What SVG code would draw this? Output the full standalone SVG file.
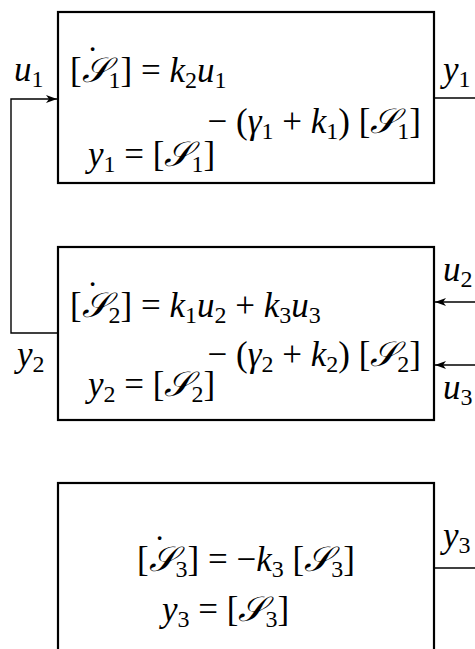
<svg xmlns="http://www.w3.org/2000/svg" width="475" height="649" viewBox="0 0 475 649">
<defs>
<style>
.t{font-family:"Liberation Serif","DejaVu Serif",serif;font-size:35px;fill:#000}
.i{font-style:italic}
.s{font-size:24px}
.box{fill:#fff;stroke:#000;stroke-width:2.2}
.ln{fill:none;stroke:#000;stroke-width:1.4}
</style>
<marker id="ah" viewBox="0 0 11 8" refX="11" refY="4" markerWidth="11" markerHeight="8" markerUnits="userSpaceOnUse" orient="auto">
<path d="M0,0 L11,4 L0,8 L3,4 Z" fill="#000"/>
</marker>
</defs>
<g id="connectors">
<path class="ln" d="M434 98 H475"/>
<path class="ln" d="M58 333 H11 V99 H57" marker-end="url(#ah)"/>
<path class="ln" d="M475 302 H435" marker-end="url(#ah)"/>
<path class="ln" d="M475 365 H435" marker-end="url(#ah)"/>
<path class="ln" d="M434 568 H475"/>
</g>
<g id="node1">
<rect class="box" x="58" y="12" width="376" height="171"/>
<text class="t" x="70" y="82">[<tspan dx="5" dy="-11">˙</tspan><tspan class="i" dx="-16.7" dy="11">𝒮</tspan><tspan class="s" dy="6">1</tspan><tspan dy="-6">] = </tspan><tspan class="i">k</tspan><tspan class="s" dy="6">2</tspan><tspan class="i" dy="-6">u</tspan><tspan class="s" dy="6">1</tspan></text>
<text class="t" x="421" y="133" text-anchor="end">− (<tspan class="i">γ</tspan><tspan class="s" dy="6">1</tspan><tspan dy="-6"> + </tspan><tspan class="i">k</tspan><tspan class="s" dy="6">1</tspan><tspan dy="-6">) [</tspan><tspan class="i">𝒮</tspan><tspan class="s" dy="6">1</tspan><tspan dy="-6">]</tspan></text>
<text class="t" x="88" y="166"><tspan class="i">y</tspan><tspan class="s" dy="6">1</tspan><tspan dy="-6"> = [</tspan><tspan class="i">𝒮</tspan><tspan class="s" dy="6">1</tspan><tspan dy="-6">]</tspan></text>
</g>
<g id="node2">
<rect class="box" x="58" y="247" width="376" height="173"/>
<text class="t" x="70" y="317">[<tspan dx="5" dy="-11">˙</tspan><tspan class="i" dx="-16.7" dy="11">𝒮</tspan><tspan class="s" dy="6">2</tspan><tspan dy="-6">] = </tspan><tspan class="i">k</tspan><tspan class="s" dy="6">1</tspan><tspan class="i" dy="-6">u</tspan><tspan class="s" dy="6">2</tspan><tspan dy="-6"> + </tspan><tspan class="i">k</tspan><tspan class="s" dy="6">3</tspan><tspan class="i" dy="-6">u</tspan><tspan class="s" dy="6">3</tspan></text>
<text class="t" x="421" y="366" text-anchor="end">− (<tspan class="i">γ</tspan><tspan class="s" dy="6">2</tspan><tspan dy="-6"> + </tspan><tspan class="i">k</tspan><tspan class="s" dy="6">2</tspan><tspan dy="-6">) [</tspan><tspan class="i">𝒮</tspan><tspan class="s" dy="6">2</tspan><tspan dy="-6">]</tspan></text>
<text class="t" x="88" y="396"><tspan class="i">y</tspan><tspan class="s" dy="6">2</tspan><tspan dy="-6"> = [</tspan><tspan class="i">𝒮</tspan><tspan class="s" dy="6">2</tspan><tspan dy="-6">]</tspan></text>
</g>
<g id="node3">
<rect class="box" x="58" y="483" width="376" height="180"/>
<text class="t" x="137" y="571">[<tspan dx="5" dy="-11">˙</tspan><tspan class="i" dx="-16.7" dy="11">𝒮</tspan><tspan class="s" dy="6">3</tspan><tspan dy="-6">] = −</tspan><tspan class="i">k</tspan><tspan class="s" dy="6">3</tspan><tspan dy="-6"> [</tspan><tspan class="i">𝒮</tspan><tspan class="s" dy="6">3</tspan><tspan dy="-6">]</tspan></text>
<text class="t" x="162" y="621"><tspan class="i">y</tspan><tspan class="s" dy="6">3</tspan><tspan dy="-6"> = [</tspan><tspan class="i">𝒮</tspan><tspan class="s" dy="6">3</tspan><tspan dy="-6">]</tspan></text>
</g>
<g id="labels">
<text class="t" x="14" y="81"><tspan class="i">u</tspan><tspan class="s" dy="6">1</tspan></text>
<text class="t" x="443" y="81"><tspan class="i">y</tspan><tspan class="s" dy="6">1</tspan></text>
<text class="t" x="443" y="281"><tspan class="i">u</tspan><tspan class="s" dy="6">2</tspan></text>
<text class="t" x="443" y="399"><tspan class="i">u</tspan><tspan class="s" dy="6">3</tspan></text>
<text class="t" x="17" y="366"><tspan class="i">y</tspan><tspan class="s" dy="6">2</tspan></text>
<text class="t" x="443" y="547"><tspan class="i">y</tspan><tspan class="s" dy="6">3</tspan></text>
</g>
</svg>
